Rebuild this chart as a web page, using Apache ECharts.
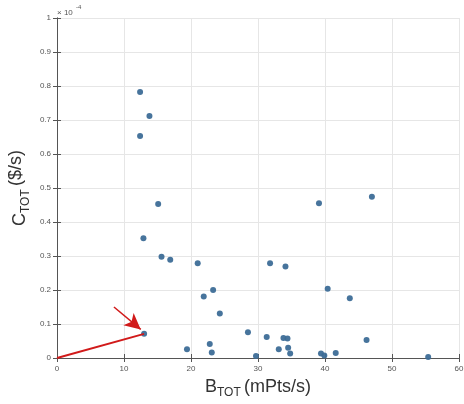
<!DOCTYPE html>
<html>
<head>
<meta charset="utf-8">
<script src="https://cdn.jsdelivr.net/npm/echarts@6/dist/echarts.min.js"></script>
<style>
  html, body { margin: 0; padding: 0; background: #fff; }
  #chart { width: 464px; height: 404px; }
</style>
</head>
<body>
<div id="chart"></div>
<script>
// Throughput B_TOT (mPts/s) against cost C_TOT (in units of 1e-4 $/s)
const bTot = [12.4, 13.8, 12.4, 15.1, 12.9, 15.6, 16.9, 21.0, 21.9, 23.3, 24.3,
              19.4, 22.8, 23.1, 28.5, 29.7, 31.3, 33.8, 34.4, 33.1, 34.5, 34.8,
              31.8, 34.1, 39.1, 40.4, 43.7, 46.2, 39.4, 39.9, 41.6, 55.4, 47.0, 13.0];
const cTot = [0.782, 0.712, 0.653, 0.453, 0.352, 0.298, 0.289, 0.279, 0.181, 0.200, 0.131,
              0.026, 0.041, 0.016, 0.076, 0.006, 0.062, 0.059, 0.057, 0.026, 0.030, 0.013,
              0.279, 0.269, 0.455, 0.204, 0.176, 0.053, 0.013, 0.007, 0.015, 0.003, 0.474, 0.071];

// Axis ticks
const xTicks = { min: 0, max: 60, step: 10 };
const yTicks = { min: 0, max: 1, step: 0.1 };

// Annotation: line from the origin to the highlighted point, plus a pointer arrow
const highlighted = [13.0, 0.071];
const pointerFrom = [8.5, 0.15];
const pointerTo = [12.5, 0.084];

const points = bTot.map((b, i) => [b, cTot[i]]);

const axisColor = '#555';
const gridColor = '#e6e6e6';
const labelStyle = { color: '#555', fontSize: 8, fontFamily: 'Liberation Sans' };
const titleFont = 'Liberation Sans';

const chart = echarts.init(document.getElementById('chart'));
chart.setOption({
  animation: false,
  grid: { left: 57, right: 5, top: 18, bottom: 46, containLabel: false, outerBoundsMode: 'none' },
  xAxis: [{
    type: 'value', min: xTicks.min, max: xTicks.max, interval: xTicks.step,
    axisLine: { lineStyle: { color: axisColor, width: 1 } },
    axisTick: { inside: true, length: 4, lineStyle: { color: axisColor } },
    axisLabel: Object.assign({ margin: 7 }, labelStyle),
    splitLine: { show: true, lineStyle: { color: gridColor } },
    name: '{b|B}{s|TOT} {b|(mPts/s)}',
    nameLocation: 'middle', nameGap: 17,
    nameTextStyle: {
      rich: {
        b: { fontSize: 18, color: '#333', fontFamily: titleFont },
        s: { fontSize: 12, color: '#333', fontFamily: titleFont, padding: [12, 0, 0, 0] }
      }
    }
  }, {
    type: 'value', position: 'top', min: xTicks.min, max: xTicks.max, interval: xTicks.step,
    axisLine: { lineStyle: { color: axisColor } },
    axisTick: { inside: true, length: 4, lineStyle: { color: axisColor } },
    axisLabel: { show: false }, splitLine: { show: false }
  }],
  yAxis: [{
    type: 'value', min: yTicks.min, max: yTicks.max, interval: yTicks.step,
    axisLine: { show: true, lineStyle: { color: axisColor, width: 1 } },
    axisTick: { show: true, inside: true, length: 4, lineStyle: { color: axisColor } },
    axisLabel: Object.assign({ margin: 6, formatter: v => String(+v.toFixed(1)) }, labelStyle),
    splitLine: { show: true, lineStyle: { color: gridColor } },
    name: '{b|C}{s|TOT} {u|($/s)}',
    nameLocation: 'middle', nameGap: 24, nameRotate: 90, nameMoveOverlap: false,
    nameTextStyle: {
      rich: {
        b: { fontSize: 18, color: '#333', fontFamily: titleFont },
        u: { fontSize: 18, color: '#333', fontFamily: titleFont, padding: [0, 0, 8, 0] },
        s: { fontSize: 12, color: '#333', fontFamily: titleFont, padding: [12, 0, 0, 0] }
      }
    }
  }, {
    type: 'value', position: 'right', min: yTicks.min, max: yTicks.max, interval: yTicks.step,
    axisLine: { show: true, lineStyle: { color: axisColor } },
    axisTick: { show: true, inside: true, length: 4, lineStyle: { color: axisColor } },
    axisLabel: { show: false }, splitLine: { show: false }
  }],
  graphic: [{
    type: 'text', left: 57, top: 9,
    style: { text: '× 10', fill: '#555', fontSize: 8, fontFamily: 'Liberation Sans' }
  }, {
    type: 'text', left: 76, top: 4,
    style: { text: '-4', fill: '#555', fontSize: 6, fontFamily: 'Liberation Sans' }
  }],
  series: [{
    type: 'scatter',
    data: points,
    symbol: 'circle', symbolSize: 6,
    itemStyle: { color: '#3d6d97', opacity: 0.95 },
    markLine: {
      silent: true,
      animation: false,
      label: { show: false },
      lineStyle: { color: '#d11a1a', width: 2, type: 'solid' },
      data: [
        [{ coord: [0, 0], symbol: 'none' }, { coord: highlighted, symbol: 'none' }],
        [{ coord: pointerFrom, symbol: 'none', lineStyle: { width: 1.5 } },
         { coord: pointerTo, symbol: 'arrow', symbolSize: [12, 16] }]
      ]
    }
  }]
});
</script>
</body>
</html>
